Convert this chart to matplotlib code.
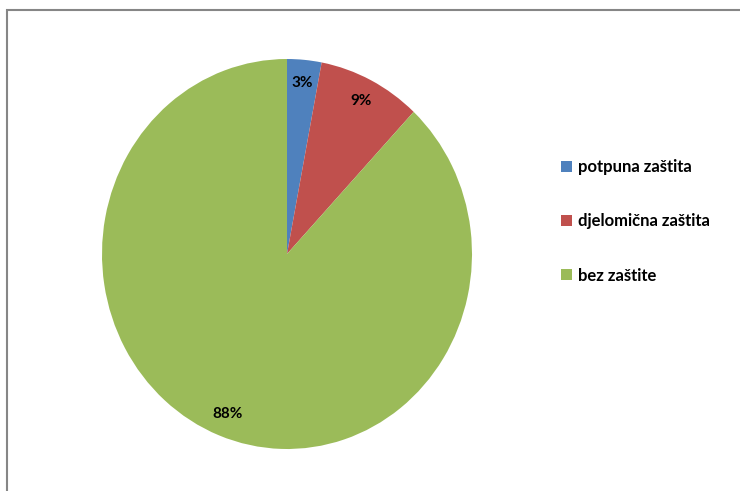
import matplotlib.pyplot as plt
from matplotlib.patches import Rectangle

# podaci s grafikona
kategorije = ["potpuna zaštita", "djelomična zaštita", "bez zaštite"]
postotci = [3, 9, 88]
boje = ["#4F81BD", "#C0504D", "#9BBB59"]

plt.rcParams['font.family'] = ['Lato', 'DejaVu Sans']

fig = plt.figure(figsize=(7.4, 4.91), dpi=100)

# pie je malo razvučen okomito, kao u originalu
ax = fig.add_axes([102 / 740, 42 / 491, 370 / 740, 390 / 491])
wedges, texts, autotexts = ax.pie(postotci, colors=boje, startangle=90, counterclock=False,
                                  autopct="%d%%", pctdistance=0.88, radius=1.0,
                                  textprops=dict(fontsize=11, fontweight="bold", color="black"))
ax.set_aspect('auto')
ax.set_xlim(-1, 1)
ax.set_ylim(-1, 1)

leg = fig.legend(wedges, kategorije, loc="upper left", bbox_to_anchor=(561 / 740, 1 - 159 / 491),
                 frameon=False, fontsize=12, labelspacing=2.3, handlelength=0.65, handleheight=0.65,
                 handletextpad=0.35, borderpad=0, borderaxespad=0)
for t in leg.get_texts():
    t.set_fontweight("bold")

# okvir grafikona (desni i donji rub su odrezani)
fig.patches.append(Rectangle((7 / 740, -0.1), 1.0, (491 - 10) / 491 + 0.1, transform=fig.transFigure,
                             fill=False, edgecolor="#868686", linewidth=1.5))

fig.savefig("out.png", dpi=100)
